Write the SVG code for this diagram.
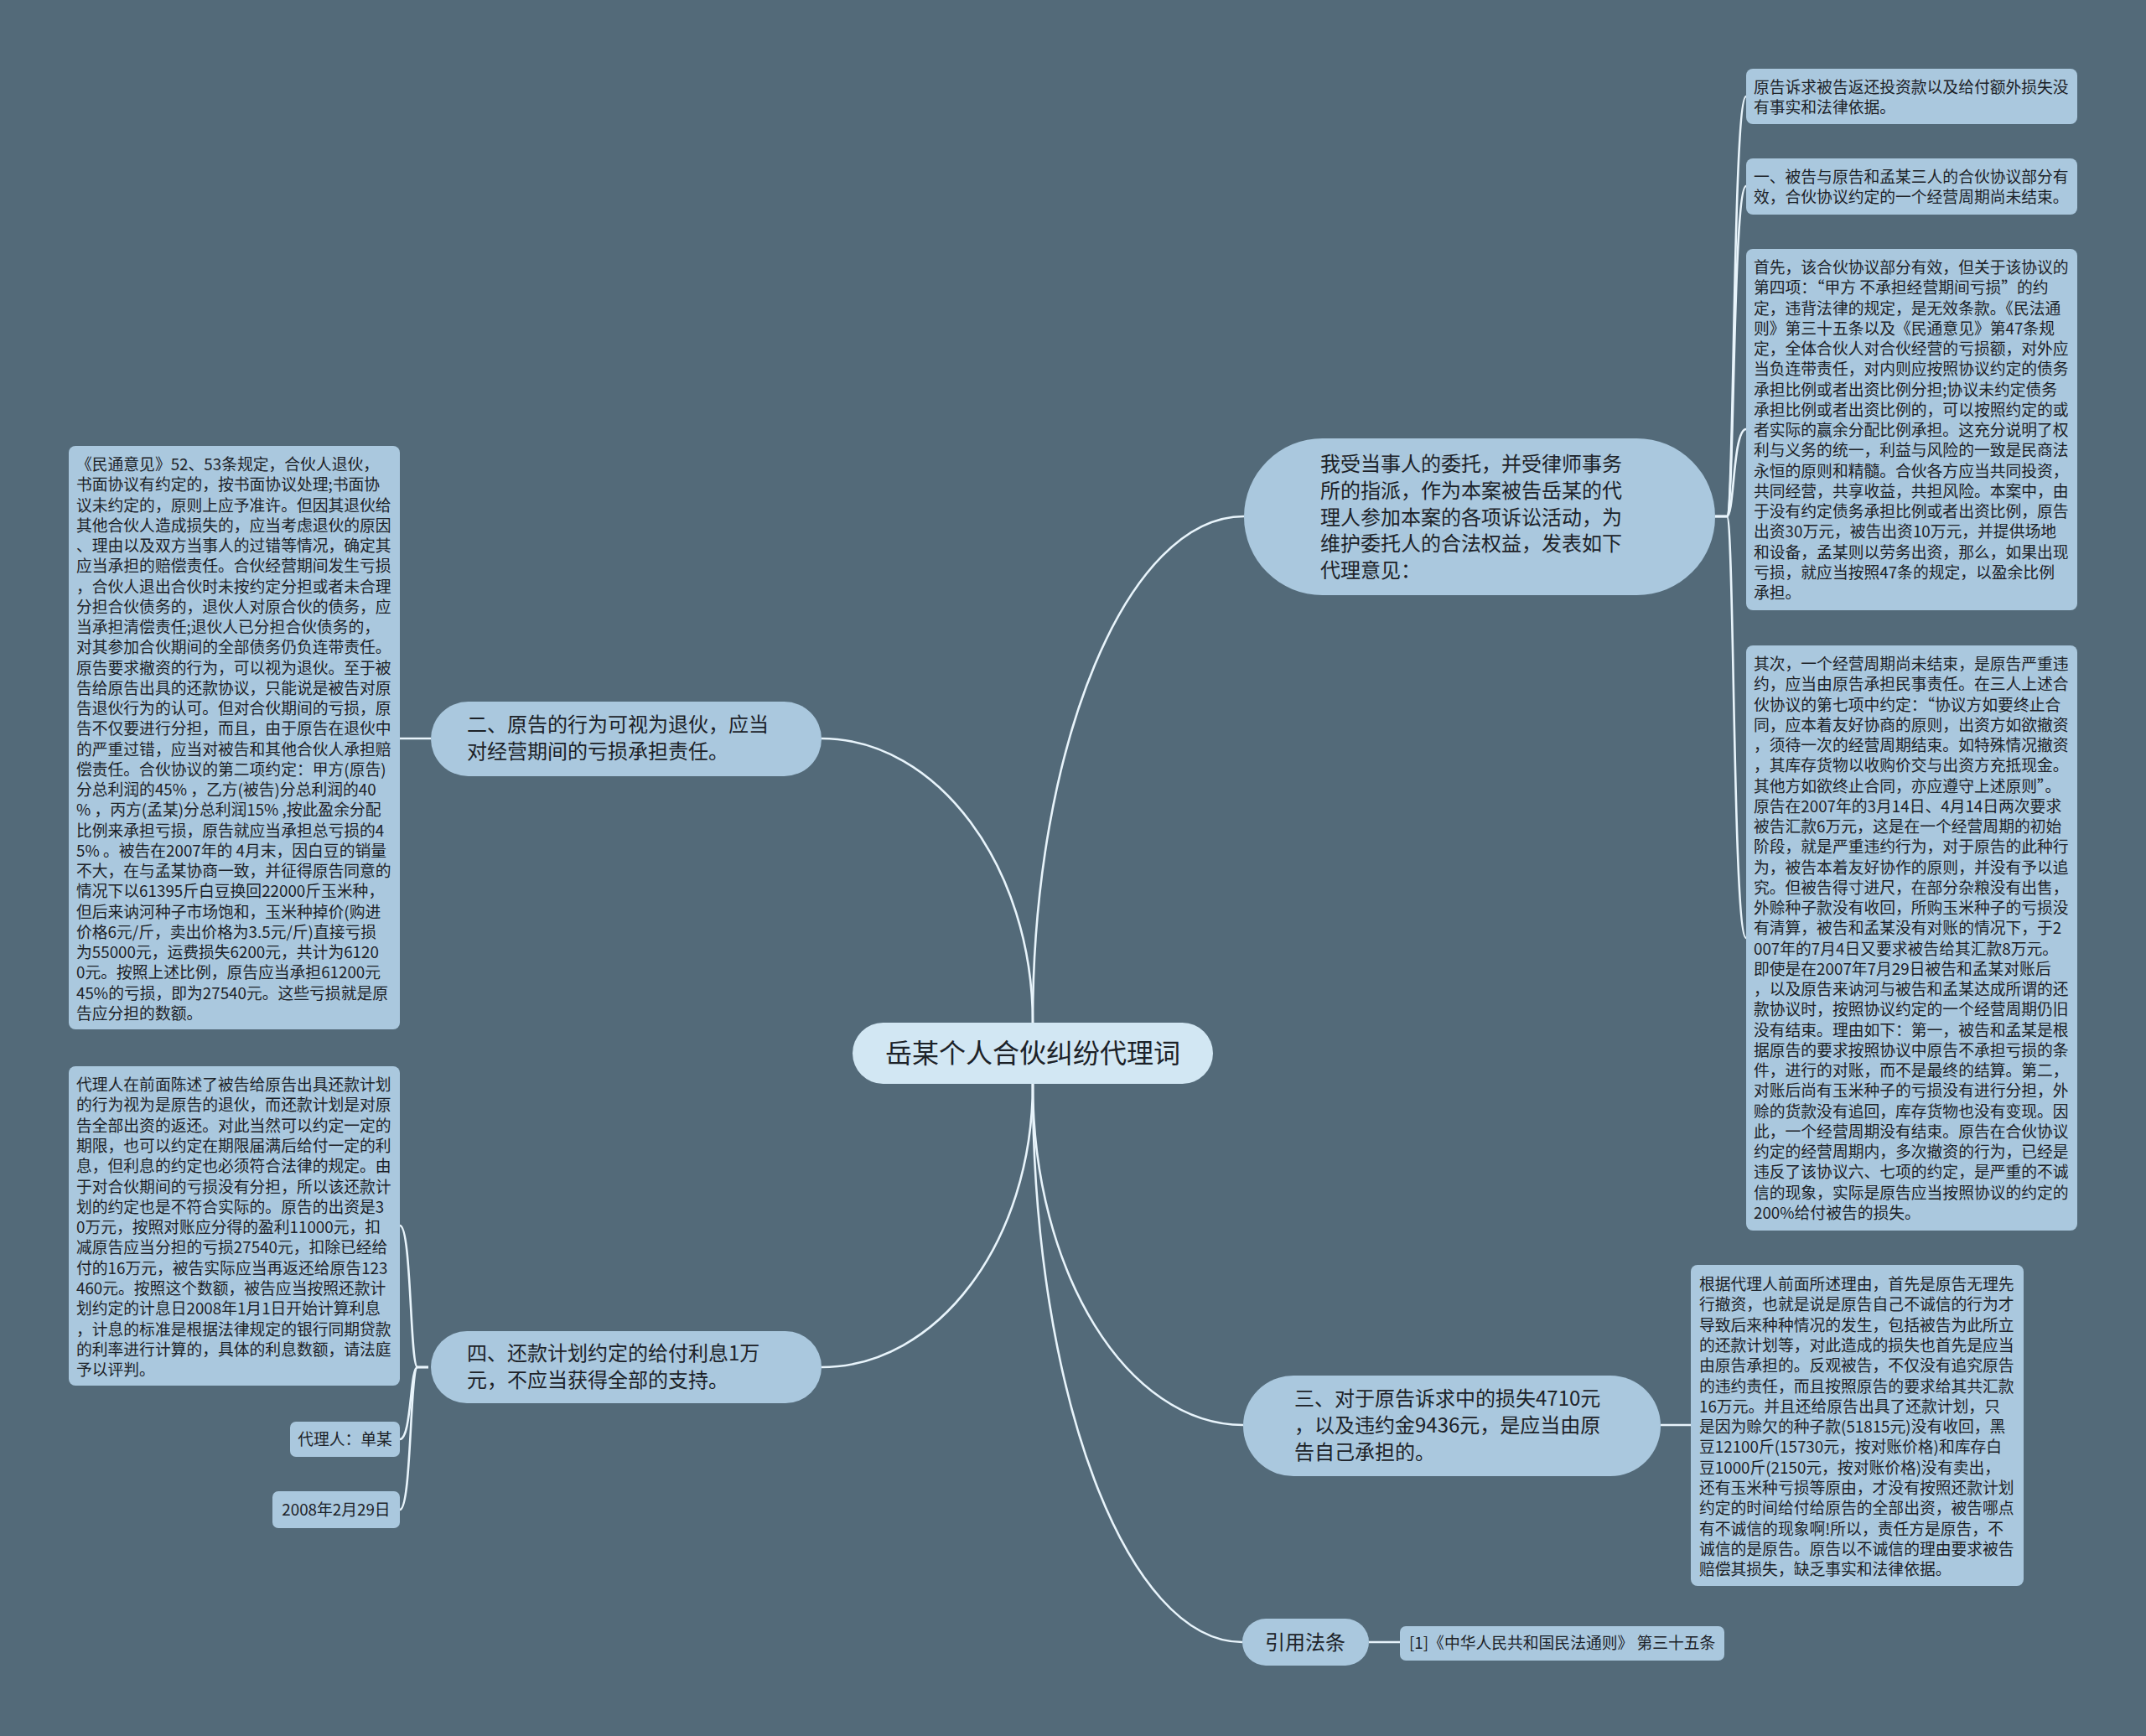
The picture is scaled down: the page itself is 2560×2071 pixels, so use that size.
<svg xmlns="http://www.w3.org/2000/svg" width="2560" height="2071" viewBox="0 0 2560 2071">
<style>
text{font-family:"Noto Sans CJK SC","Noto Sans",sans-serif;fill:#1c2228}
.leaf rect{fill:#aac8de}
.leaf text{font-size:18.8px}
.br rect{fill:#aac8de}
.br text{font-size:24px}
.center rect{fill:#d2e7f3}
.center text{font-size:32px}
.conn path{fill:none;stroke:#e8f4fb;stroke-width:2.6}
</style>
<rect width="2560" height="2071" fill="#536a79"/>
<g id="connectors" class="conn">
<path d="M1232 1220 C1232 888 1345 616 1484 616"/>
<path d="M1232 1220 C1232 1034 1118 881 980 881"/>
<path d="M1232 1293 C1232 1482 1118 1631 980 1631"/>
<path d="M1232 1293 C1232 1518 1345 1700 1483 1700"/>
<path d="M1232 1293 C1232 1665 1345 1959 1482 1959"/>
<path d="M2046 616 H2060 C2069 616 2067 115 2083 115"/>
<path d="M2046 616 H2060 C2069 616 2067 222 2083 222"/>
<path d="M2046 616 H2060 C2069 616 2067 512 2083 512"/>
<path d="M2046 616 H2060 C2069 616 2067 1119 2083 1119"/>
<path d="M1981 1700 H2017"/>
<path d="M1633 1959 H1670"/>
<path d="M514 881 H477"/>
<path d="M511 1631 H498 C489 1631 491 1462 477 1462"/>
<path d="M511 1631 H498 C489 1631 491 1717 477 1717"/>
<path d="M511 1631 H498 C489 1631 491 1801 477 1801"/>
</g>
<g id="center" class="center">
<rect x="1017" y="1220" width="430" height="73" rx="36.5"/>
<text x="1232" y="1268" text-anchor="middle">岳某个人合伙纠纷代理词</text>
</g>
<g id="branch-opinion" class="br">
<rect x="1484" y="523" width="562" height="187" rx="93.5"/>
<text x="1575" y="562"><tspan x="1575">我受当事人的委托，并受律师事务</tspan><tspan x="1575" dy="31.8">所的指派，作为本案被告岳某的代</tspan><tspan x="1575" dy="31.8">理人参加本案的各项诉讼活动，为</tspan><tspan x="1575" dy="31.8">维护委托人的合法权益，发表如下</tspan><tspan x="1575" dy="31.8">代理意见：</tspan></text>
</g>
<g id="leaf-r1" class="leaf">
<rect x="2083" y="82" width="395" height="66" rx="8"/>
<text x="2092" y="111"><tspan x="2092">原告诉求被告返还投资款以及给付额外损失没</tspan><tspan x="2092" dy="24.25">有事实和法律依据。</tspan></text>
</g>
<g id="leaf-r2" class="leaf">
<rect x="2083" y="189" width="395" height="67" rx="8"/>
<text x="2092" y="218"><tspan x="2092">一、被告与原告和孟某三人的合伙协议部分有</tspan><tspan x="2092" dy="24.25">效，合伙协议约定的一个经营周期尚未结束。</tspan></text>
</g>
<g id="leaf-r3" class="leaf">
<rect x="2083" y="297" width="395" height="431" rx="8"/>
<text x="2092" y="326"><tspan x="2092">首先，该合伙协议部分有效，但关于该协议的</tspan><tspan x="2092" dy="24.25">第四项：“甲方 不承担经营期间亏损”的约</tspan><tspan x="2092" dy="24.25">定，违背法律的规定，是无效条款。《民法通</tspan><tspan x="2092" dy="24.25">则》第三十五条以及《民通意见》第47条规</tspan><tspan x="2092" dy="24.25">定，全体合伙人对合伙经营的亏损额，对外应</tspan><tspan x="2092" dy="24.25">当负连带责任，对内则应按照协议约定的债务</tspan><tspan x="2092" dy="24.25">承担比例或者出资比例分担;协议未约定债务</tspan><tspan x="2092" dy="24.25">承担比例或者出资比例的，可以按照约定的或</tspan><tspan x="2092" dy="24.25">者实际的赢余分配比例承担。这充分说明了权</tspan><tspan x="2092" dy="24.25">利与义务的统一，利益与风险的一致是民商法</tspan><tspan x="2092" dy="24.25">永恒的原则和精髓。合伙各方应当共同投资，</tspan><tspan x="2092" dy="24.25">共同经营，共享收益，共担风险。本案中，由</tspan><tspan x="2092" dy="24.25">于没有约定债务承担比例或者出资比例，原告</tspan><tspan x="2092" dy="24.25">出资30万元，被告出资10万元，并提供场地</tspan><tspan x="2092" dy="24.25">和设备，孟某则以劳务出资，那么，如果出现</tspan><tspan x="2092" dy="24.25">亏损，就应当按照47条的规定，以盈余比例</tspan><tspan x="2092" dy="24.25">承担。</tspan></text>
</g>
<g id="leaf-r4" class="leaf">
<rect x="2083" y="770" width="395" height="698" rx="8"/>
<text x="2092" y="799"><tspan x="2092">其次，一个经营周期尚未结束，是原告严重违</tspan><tspan x="2092" dy="24.25">约，应当由原告承担民事责任。在三人上述合</tspan><tspan x="2092" dy="24.25">伙协议的第七项中约定：“协议方如要终止合</tspan><tspan x="2092" dy="24.25">同，应本着友好协商的原则，出资方如欲撤资</tspan><tspan x="2092" dy="24.25">，须待一次的经营周期结束。如特殊情况撤资</tspan><tspan x="2092" dy="24.25">，其库存货物以收购价交与出资方充抵现金。</tspan><tspan x="2092" dy="24.25">其他方如欲终止合同，亦应遵守上述原则”。</tspan><tspan x="2092" dy="24.25">原告在2007年的3月14日、4月14日两次要求</tspan><tspan x="2092" dy="24.25">被告汇款6万元，这是在一个经营周期的初始</tspan><tspan x="2092" dy="24.25">阶段，就是严重违约行为，对于原告的此种行</tspan><tspan x="2092" dy="24.25">为，被告本着友好协作的原则，并没有予以追</tspan><tspan x="2092" dy="24.25">究。但被告得寸进尺，在部分杂粮没有出售，</tspan><tspan x="2092" dy="24.25">外赊种子款没有收回，所购玉米种子的亏损没</tspan><tspan x="2092" dy="24.25">有清算，被告和孟某没有对账的情况下，于2</tspan><tspan x="2092" dy="24.25">007年的7月4日又要求被告给其汇款8万元。</tspan><tspan x="2092" dy="24.25">即使是在2007年7月29日被告和孟某对账后</tspan><tspan x="2092" dy="24.25">，以及原告来讷河与被告和孟某达成所谓的还</tspan><tspan x="2092" dy="24.25">款协议时，按照协议约定的一个经营周期仍旧</tspan><tspan x="2092" dy="24.25">没有结束。理由如下：第一，被告和孟某是根</tspan><tspan x="2092" dy="24.25">据原告的要求按照协议中原告不承担亏损的条</tspan><tspan x="2092" dy="24.25">件，进行的对账，而不是最终的结算。第二，</tspan><tspan x="2092" dy="24.25">对账后尚有玉米种子的亏损没有进行分担，外</tspan><tspan x="2092" dy="24.25">赊的货款没有追回，库存货物也没有变现。因</tspan><tspan x="2092" dy="24.25">此，一个经营周期没有结束。原告在合伙协议</tspan><tspan x="2092" dy="24.25">约定的经营周期内，多次撤资的行为，已经是</tspan><tspan x="2092" dy="24.25">违反了该协议六、七项的约定，是严重的不诚</tspan><tspan x="2092" dy="24.25">信的现象，实际是原告应当按照协议的约定的</tspan><tspan x="2092" dy="24.25">200%给付被告的损失。</tspan></text>
</g>
<g id="branch-three" class="br">
<rect x="1483" y="1641" width="498" height="120" rx="60"/>
<text x="1544" y="1677"><tspan x="1544">三、对于原告诉求中的损失4710元</tspan><tspan x="1544" dy="32">，以及违约金9436元，是应当由原</tspan><tspan x="1544" dy="32">告自己承担的。</tspan></text>
</g>
<g id="leaf-three" class="leaf">
<rect x="2017" y="1509" width="397" height="383" rx="8"/>
<text x="2027" y="1539"><tspan x="2027">根据代理人前面所述理由，首先是原告无理先</tspan><tspan x="2027" dy="24.3">行撤资，也就是说是原告自己不诚信的行为才</tspan><tspan x="2027" dy="24.3">导致后来种种情况的发生，包括被告为此所立</tspan><tspan x="2027" dy="24.3">的还款计划等，对此造成的损失也首先是应当</tspan><tspan x="2027" dy="24.3">由原告承担的。反观被告，不仅没有追究原告</tspan><tspan x="2027" dy="24.3">的违约责任，而且按照原告的要求给其共汇款</tspan><tspan x="2027" dy="24.3">16万元。并且还给原告出具了还款计划，只</tspan><tspan x="2027" dy="24.3">是因为赊欠的种子款(51815元)没有收回，黑</tspan><tspan x="2027" dy="24.3">豆12100斤(15730元，按对账价格)和库存白</tspan><tspan x="2027" dy="24.3">豆1000斤(2150元，按对账价格)没有卖出，</tspan><tspan x="2027" dy="24.3">还有玉米种亏损等原由，才没有按照还款计划</tspan><tspan x="2027" dy="24.3">约定的时间给付给原告的全部出资，被告哪点</tspan><tspan x="2027" dy="24.3">有不诚信的现象啊!所以，责任方是原告，不</tspan><tspan x="2027" dy="24.3">诚信的是原告。原告以不诚信的理由要求被告</tspan><tspan x="2027" dy="24.3">赔偿其损失，缺乏事实和法律依据。</tspan></text>
</g>
<g id="branch-law" class="br">
<rect x="1482" y="1931" width="151" height="56" rx="28"/>
<text x="1557" y="1968" text-anchor="middle">引用法条</text>
</g>
<g id="leaf-law" class="leaf">
<rect x="1670" y="1940" width="387" height="41" rx="7"/>
<text x="1681" y="1967">[1]《中华人民共和国民法通则》 第三十五条</text>
</g>
<g id="branch-two" class="br">
<rect x="514" y="837" width="466" height="89" rx="44.5"/>
<text x="557" y="873"><tspan x="557">二、原告的行为可视为退伙，应当</tspan><tspan x="557" dy="32">对经营期间的亏损承担责任。</tspan></text>
</g>
<g id="leaf-two" class="leaf">
<rect x="82" y="532" width="395" height="696" rx="8"/>
<text x="91" y="561"><tspan x="91">《民通意见》52、53条规定，合伙人退伙，</tspan><tspan x="91" dy="24.25">书面协议有约定的，按书面协议处理;书面协</tspan><tspan x="91" dy="24.25">议未约定的，原则上应予准许。但因其退伙给</tspan><tspan x="91" dy="24.25">其他合伙人造成损失的，应当考虑退伙的原因</tspan><tspan x="91" dy="24.25">、理由以及双方当事人的过错等情况，确定其</tspan><tspan x="91" dy="24.25">应当承担的赔偿责任。合伙经营期间发生亏损</tspan><tspan x="91" dy="24.25">，合伙人退出合伙时未按约定分担或者未合理</tspan><tspan x="91" dy="24.25">分担合伙债务的，退伙人对原合伙的债务，应</tspan><tspan x="91" dy="24.25">当承担清偿责任;退伙人已分担合伙债务的，</tspan><tspan x="91" dy="24.25">对其参加合伙期间的全部债务仍负连带责任。</tspan><tspan x="91" dy="24.25">原告要求撤资的行为，可以视为退伙。至于被</tspan><tspan x="91" dy="24.25">告给原告出具的还款协议，只能说是被告对原</tspan><tspan x="91" dy="24.25">告退伙行为的认可。但对合伙期间的亏损，原</tspan><tspan x="91" dy="24.25">告不仅要进行分担，而且，由于原告在退伙中</tspan><tspan x="91" dy="24.25">的严重过错，应当对被告和其他合伙人承担赔</tspan><tspan x="91" dy="24.25">偿责任。合伙协议的第二项约定：甲方(原告)</tspan><tspan x="91" dy="24.25">分总利润的45% ，乙方(被告)分总利润的40</tspan><tspan x="91" dy="24.25">% ，丙方(孟某)分总利润15% ,按此盈余分配</tspan><tspan x="91" dy="24.25">比例来承担亏损，原告就应当承担总亏损的4</tspan><tspan x="91" dy="24.25">5% 。被告在2007年的 4月末，因白豆的销量</tspan><tspan x="91" dy="24.25">不大，在与孟某协商一致，并征得原告同意的</tspan><tspan x="91" dy="24.25">情况下以61395斤白豆换回22000斤玉米种，</tspan><tspan x="91" dy="24.25">但后来讷河种子市场饱和，玉米种掉价(购进</tspan><tspan x="91" dy="24.25">价格6元/斤，卖出价格为3.5元/斤)直接亏损</tspan><tspan x="91" dy="24.25">为55000元，运费损失6200元，共计为6120</tspan><tspan x="91" dy="24.25">0元。按照上述比例，原告应当承担61200元</tspan><tspan x="91" dy="24.25">45%的亏损，即为27540元。这些亏损就是原</tspan><tspan x="91" dy="24.25">告应分担的数额。</tspan></text>
</g>
<g id="branch-four" class="br">
<rect x="514" y="1588" width="466" height="86" rx="43"/>
<text x="557" y="1623"><tspan x="557">四、还款计划约定的给付利息1万</tspan><tspan x="557" dy="32">元，不应当获得全部的支持。</tspan></text>
</g>
<g id="leaf-four-a" class="leaf">
<rect x="82" y="1272" width="395" height="381" rx="8"/>
<text x="91" y="1301"><tspan x="91">代理人在前面陈述了被告给原告出具还款计划</tspan><tspan x="91" dy="24.3">的行为视为是原告的退伙，而还款计划是对原</tspan><tspan x="91" dy="24.3">告全部出资的返还。对此当然可以约定一定的</tspan><tspan x="91" dy="24.3">期限，也可以约定在期限届满后给付一定的利</tspan><tspan x="91" dy="24.3">息，但利息的约定也必须符合法律的规定。由</tspan><tspan x="91" dy="24.3">于对合伙期间的亏损没有分担，所以该还款计</tspan><tspan x="91" dy="24.3">划的约定也是不符合实际的。原告的出资是3</tspan><tspan x="91" dy="24.3">0万元，按照对账应分得的盈利11000元，扣</tspan><tspan x="91" dy="24.3">减原告应当分担的亏损27540元，扣除已经给</tspan><tspan x="91" dy="24.3">付的16万元，被告实际应当再返还给原告123</tspan><tspan x="91" dy="24.3">460元。按照这个数额，被告应当按照还款计</tspan><tspan x="91" dy="24.3">划约定的计息日2008年1月1日开始计算利息</tspan><tspan x="91" dy="24.3">，计息的标准是根据法律规定的银行同期贷款</tspan><tspan x="91" dy="24.3">的利率进行计算的，具体的利息数额，请法庭</tspan><tspan x="91" dy="24.3">予以评判。</tspan></text>
</g>
<g id="leaf-four-b" class="leaf">
<rect x="346" y="1696" width="131" height="42" rx="7"/>
<text x="411.5" y="1724" text-anchor="middle">代理人：单某</text>
</g>
<g id="leaf-four-c" class="leaf">
<rect x="325" y="1779" width="152" height="44" rx="7"/>
<text x="401" y="1808" text-anchor="middle">2008年2月29日</text>
</g>
</svg>
